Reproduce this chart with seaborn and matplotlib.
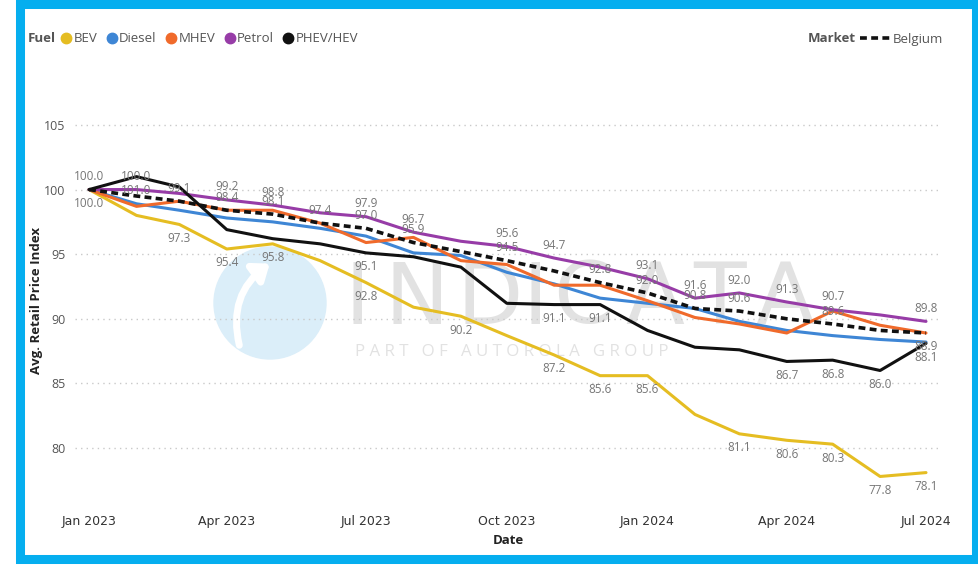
"""Avg. retail price index by fuel type, Belgium market (Jan 2023 = 100)."""

import matplotlib.pyplot as plt
import matplotlib.dates as mdates
import pandas as pd
import seaborn as sns
from matplotlib.lines import Line2D
from matplotlib.patches import Ellipse, FancyArrowPatch, Rectangle

# ---------------------------------------------------------------------------
# data
# ---------------------------------------------------------------------------

MONTHS = [
    "2023-01", "2023-02", "2023-03", "2023-04", "2023-05", "2023-06", "2023-07",
    "2023-08", "2023-09", "2023-10", "2023-11", "2023-12", "2024-01", "2024-02",
    "2024-03", "2024-04", "2024-05", "2024-06", "2024-07",
]

BEV = [100.0, 98.0, 97.3, 95.4, 95.8, 94.5, 92.8, 90.9, 90.2, 88.7,
       87.2, 85.6, 85.6, 82.6, 81.1, 80.6, 80.3, 77.8, 78.1]
DIESEL = [100.0, 98.9, 98.4, 97.8, 97.5, 97.0, 96.4, 95.1, 94.9, 93.6,
          92.7, 91.6, 91.2, 90.8, 89.8, 89.1, 88.7, 88.4, 88.2]
MHEV = [100.0, 98.7, 99.1, 98.4, 98.4, 97.4, 95.9, 96.3, 94.5, 94.2,
        92.6, 92.6, 91.4, 90.1, 89.6, 88.9, 90.6, 89.5, 88.9]
PETROL = [100.0, 100.0, 99.7, 99.2, 98.8, 98.2, 97.9, 96.7, 96.0, 95.6,
          94.7, 94.0, 93.1, 91.6, 92.0, 91.3, 90.7, 90.3, 89.8]
PHEV_HEV = [100.0, 101.0, 100.2, 96.9, 96.2, 95.8, 95.1, 94.8, 94.0, 91.2,
            91.1, 91.1, 89.1, 87.8, 87.6, 86.7, 86.8, 86.0, 88.1]
BELGIUM = [100.0, 99.5, 99.1, 98.4, 98.1, 97.4, 97.0, 95.9, 95.2, 94.5,
           93.7, 92.8, 92.0, 90.8, 90.6, 90.0, 89.6, 89.1, 88.9]

FUELS = ["BEV", "Diesel", "MHEV", "Petrol", "PHEV/HEV"]
FUEL_VALUES = [BEV, DIESEL, MHEV, PETROL, PHEV_HEV]

# which points carry a data label
LABELS_ABOVE = {
    "Petrol": [0, 1, 3, 4, 6, 7, 9, 10, 12, 13, 14, 15, 16, 18],
    "Belgium": [2, 3, 4, 5, 6, 7, 9, 11, 12, 13, 14, 16],
}
LABELS_BELOW = {
    "BEV": [0, 2, 3, 4, 6, 8, 10, 11, 12, 14, 15, 16, 17, 18],
    "PHEV/HEV": [1, 6, 10, 11, 15, 16, 17, 18],
    "MHEV": [18],
}

COLORS = {
    "BEV": "#E5BD22",
    "Diesel": "#3E86D5",
    "MHEV": "#F06A2B",
    "Petrol": "#973CA7",
    "PHEV/HEV": "#111111",
}

W, H = 979, 566
FONT = ["Open Sans", "DejaVu Sans"]
NARROW = ["Liberation Sans Narrow", "DejaVu Sans"]


def fx(px):
    return px / W


def fy(px):
    return 1 - px / H


# ---------------------------------------------------------------------------
# frame
# ---------------------------------------------------------------------------

dates = pd.to_datetime(MONTHS)
df = pd.DataFrame({"date": list(dates) * len(FUELS),
                   "fuel": [f for f in FUELS for _ in dates],
                   "index": [v for vals in FUEL_VALUES for v in vals]})
market = pd.DataFrame({"date": dates, "index": BELGIUM})

sns.set_theme(style="white")
plt.rcParams["font.family"] = FONT

fig = plt.figure(figsize=(W / 100, H / 100), dpi=100)
fig.patch.set_facecolor("white")
ax = fig.add_axes([fx(75), fy(500), fx(941) - fx(75), fy(100) - fy(500)])
ax.patch.set_alpha(0)

# watermark (drawn behind the transparent axes)
fig.patches.append(Ellipse((fx(270), fy(303)), 112 / W, 112 / H,
                           transform=fig.transFigure, color="#dbeef9", zorder=-2))
fig.patches.append(FancyArrowPatch((fx(240), fy(348)), (fx(272), fy(262)),
                                   transform=fig.transFigure,
                                   connectionstyle="arc3,rad=-0.35",
                                   arrowstyle="-|>,head_length=9,head_width=7",
                                   color="white", lw=5, zorder=-1))
for letter, cx in zip("INDICATA", [357, 417, 490, 535, 583, 655, 720, 785]):
    fig.text(fx(cx), fy(300), letter, ha="center", va="center", fontsize=62,
             color="#e2e2e2", zorder=-1, family=NARROW)
fig.text(fx(355), fy(352), "P A R T   O F   A U T O R O L A   G R O U P",
         ha="left", va="center", fontsize=12.2, color="#e2e2e2", zorder=-1,
         family=FONT)

# ---------------------------------------------------------------------------
# lines
# ---------------------------------------------------------------------------

sns.lineplot(data=df, x="date", y="index", hue="fuel", hue_order=FUELS,
             palette=COLORS, linewidth=2.2, legend=False, ax=ax)
sns.lineplot(data=market, x="date", y="index", color="#111111", linewidth=2.6,
             linestyle=(0, (1.9, 1.2)), ax=ax)

series = dict(zip(FUELS, FUEL_VALUES))
series["Belgium"] = BELGIUM
label_kw = dict(textcoords="offset points", ha="center", va="center",
                fontsize=8.5, color="#767676", family=FONT, zorder=5)
for name, idx in LABELS_ABOVE.items():
    for i in idx:
        ax.annotate(f"{series[name][i]:.1f}", (dates[i], series[name][i]),
                    xytext=(0, 9.3), **label_kw)
for name, idx in LABELS_BELOW.items():
    for i in idx:
        ax.annotate(f"{series[name][i]:.1f}", (dates[i], series[name][i]),
                    xytext=(0, -10), **label_kw)

# ---------------------------------------------------------------------------
# axes
# ---------------------------------------------------------------------------

ax.set_ylim(75.98, 106.93)
ax.set_xlim(dates[0] - pd.Timedelta(days=9.2), dates[-1] + pd.Timedelta(days=9.8))
ax.set_yticks([80, 85, 90, 95, 100, 105])
ax.xaxis.set_major_locator(mdates.MonthLocator(bymonth=[1, 4, 7, 10]))
ax.xaxis.set_major_formatter(mdates.DateFormatter("%b %Y"))
ax.grid(axis="y", color="#c9c9c9", linestyle=(0, (1, 3)), linewidth=1)
ax.grid(axis="x", visible=False)
ax.set_axisbelow(True)
sns.despine(ax=ax, left=True, bottom=True)
ax.tick_params(axis="y", length=0, pad=7, labelsize=9, labelcolor="#555555")
ax.tick_params(axis="x", length=0, pad=11, labelsize=9, labelcolor="#333333")
for t in ax.get_xticklabels():
    t.set_family(NARROW)

ax.set_xlabel("Date", fontsize=9.5, fontweight="bold", color="#222222", labelpad=4)
ax.set_ylabel("Avg. Retail Price Index", fontsize=9.5, fontweight="bold",
              color="#222222", labelpad=1)

# ---------------------------------------------------------------------------
# legends
# ---------------------------------------------------------------------------

fig.text(fx(28), fy(39), "Fuel", ha="left", va="center", fontsize=9.5,
         fontweight="bold", color="#555555")
handles = [Line2D([], [], marker="o", linestyle="none", markersize=7.5,
                  color=COLORS[f]) for f in FUELS]
fig.legend(handles, FUELS, ncol=5, loc="center left",
           bbox_to_anchor=(fx(59), fy(39)), frameon=False, fontsize=9.5,
           handletextpad=0.0, columnspacing=0.55, handlelength=1.1,
           borderpad=0, borderaxespad=0, labelcolor="#555555")

fig.text(fx(808), fy(39), "Market", ha="left", va="center", fontsize=9.5,
         fontweight="bold", color="#555555")
fig.legend([Line2D([], [], color="#111111", linewidth=2.6,
                   linestyle=(0, (1.9, 1.2)))], ["Belgium"],
           loc="center left", bbox_to_anchor=(fx(860), fy(39)), frameon=False,
           fontsize=9.5, handlelength=2.3, handletextpad=0.2, borderpad=0,
           borderaxespad=0, labelcolor="#555555")

# blue frame
fig.patches.append(Rectangle((fx(20), fy(559)), fx(976) - fx(20), fy(4) - fy(559),
                             transform=fig.transFigure, fill=False,
                             edgecolor="#05AEEF", linewidth=6.5, zorder=10))

fig.savefig("out.png", dpi=100)
